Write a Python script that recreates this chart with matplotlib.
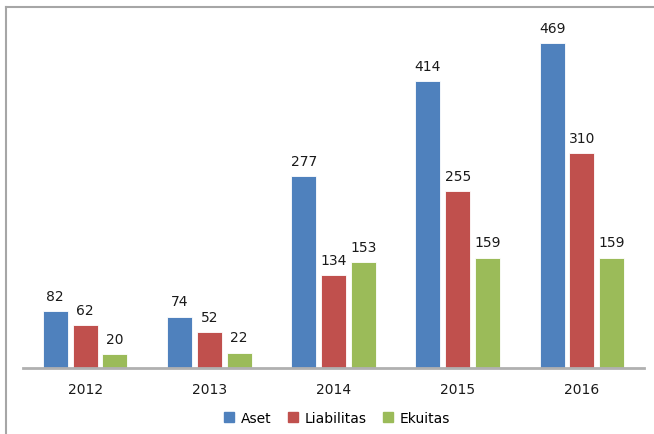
import matplotlib
matplotlib.use("Agg")
import matplotlib.pyplot as plt
from matplotlib.lines import Line2D
import numpy as np

years = ["2012", "2013", "2014", "2015", "2016"]
aset = [82, 74, 277, 414, 469]
liabilitas = [62, 52, 134, 255, 310]
ekuitas = [20, 22, 153, 159, 159]
series_names = ["Aset", "Liabilitas", "Ekuitas"]
colors = ["#4F81BD", "#C0504D", "#9BBB59"]

fig = plt.figure(figsize=(6.54, 4.35), dpi=100)
ax = fig.add_axes([23/654, 66/435, 621/654, (435-66-22.5)/435 - 66/435 + 66/435 - 0])
ax.set_position([23/654, 66/435, 621/654, 346.5/435])

x = np.arange(len(years))
w = 0.2
step = 0.24
for i, (vals, name, c) in enumerate(zip([aset, liabilitas, ekuitas], series_names, colors)):
    pos = x + (i - 1) * step
    bars = ax.bar(pos, vals, width=w, color=c, label=name, edgecolor="white", linewidth=0.6)
    for b, v in zip(bars, vals):
        ax.annotate(str(v), (b.get_x() + b.get_width()/2, v), xytext=(0, 6),
                    textcoords="offset points", ha="center", va="bottom",
                    fontsize=10, color="#1a1a1a")

ax.set_xlim(-0.5, len(years) - 0.5)
ax.set_ylim(0, 500)
ax.set_xticks(x)
ax.set_xticklabels(years, fontsize=10, color="#1a1a1a")
ax.tick_params(axis="x", length=0, pad=10)
ax.set_yticks([])
for s in ["top", "right", "left"]:
    ax.spines[s].set_visible(False)
ax.spines["bottom"].set_color("#b0b0b0")
ax.spines["bottom"].set_linewidth(2)

handles = [plt.Rectangle((0, 0), 1, 1, color=c) for c in colors]
fig.legend(handles, series_names, loc="center", bbox_to_anchor=(337/654, 1 - 419/435),
           ncol=3, frameon=False, fontsize=10, handlelength=0.7, handleheight=0.7,
           handletextpad=0.5, columnspacing=1.2)

fig.add_artist(Line2D([6/654, 1.0], [1 - 8/435, 1 - 8/435], color="#a6a6a6", linewidth=1.5))
fig.add_artist(Line2D([6/654, 6/654], [0.0, 1 - 8/435], color="#a6a6a6", linewidth=1.5))

fig.savefig("out.png", dpi=100)
